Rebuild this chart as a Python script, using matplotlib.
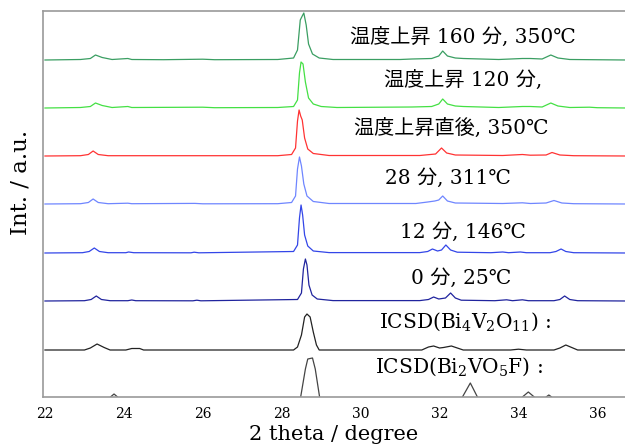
import matplotlib
matplotlib.use("Agg")
import matplotlib.pyplot as plt

# XRD patterns, (2theta, intensity above own baseline)
T160 = [(22.0, 0), (22.9, 0.5), (23.15, 1.5), (23.28, 5), (23.45, 2.5), (23.7, 0.5),
        (24.1, 1.5), (24.2, 0.5), (25.0, 0.3), (26.0, 0.8), (26.3, 0.3), (27.9, 0.5),
        (28.3, 2), (28.4, 10), (28.47, 40), (28.52, 44), (28.56, 47), (28.62, 35),
        (28.68, 16), (28.78, 6), (28.95, 2), (29.3, 0.5), (31.0, 0.5), (31.3, 1),
        (31.8, 1.5), (31.98, 4), (32.08, 9), (32.2, 4), (32.4, 2), (32.6, 1.5),
        (33.5, 0.5), (34.1, 1.5), (34.3, 1.5), (34.6, 1), (34.82, 5), (35.0, 2),
        (35.3, 0.5), (36.75, 0)]
T120 = [(22.0, 0), (22.9, 0.5), (23.15, 1.5), (23.28, 5), (23.45, 2.5), (23.7, 0.5),
        (24.1, 1.5), (24.2, 0.5), (26.0, 0.8), (26.3, 0.3), (27.9, 0.5), (28.3, 1.5),
        (28.4, 8), (28.45, 35), (28.49, 46), (28.54, 44), (28.6, 26), (28.68, 10),
        (28.8, 4), (29.0, 1.5), (29.4, 0.5), (31.3, 1), (31.8, 1.5), (31.98, 4),
        (32.08, 9), (32.2, 4), (32.4, 2), (32.6, 1.5), (33.5, 0.5), (34.1, 1.5),
        (34.3, 1.5), (34.6, 1), (34.82, 5), (35.0, 2), (35.3, 0.5), (35.8, 0.8),
        (36.0, 0.3), (36.75, 0)]
T_AFTER = [(22.0, 0), (22.9, 0.3), (23.1, 1.5), (23.22, 5), (23.35, 1.5), (23.6, 0.3),
           (25.0, 0.3), (27.9, 0.3), (28.25, 1.5), (28.35, 8), (28.4, 35), (28.44, 46),
           (28.48, 40), (28.52, 36), (28.58, 18), (28.66, 7), (28.8, 2.5), (29.2, 0.5),
           (31.5, 0.5), (31.9, 2), (32.05, 8), (32.18, 3), (32.4, 1), (33.6, 0.5),
           (34.1, 1.5), (34.3, 0.8), (34.7, 1), (34.85, 3.5), (35.05, 1), (35.4, 0.3),
           (36.75, 0)]
T28 = [(22.0, 0), (22.9, 0.3), (23.1, 1.5), (23.22, 5), (23.35, 1.5), (23.6, 0.3),
       (24.1, 0.8), (24.2, 0.3), (25.8, 0.6), (26.0, 0.2), (27.9, 0.3), (28.25, 1.5),
       (28.35, 8), (28.4, 35), (28.45, 47), (28.5, 38), (28.56, 20), (28.64, 8),
       (28.8, 2.5), (29.2, 0.5), (31.4, 0.5), (31.7, 2), (31.88, 3), (31.98, 4),
       (32.08, 8), (32.2, 3), (32.4, 1), (33.6, 0.5), (34.1, 1.2), (34.3, 0.5),
       (34.7, 1), (34.9, 3.5), (35.1, 1), (35.4, 0.3), (36.75, 0)]
T12 = [(22.0, 0), (22.95, 0.3), (23.12, 1.5), (23.25, 5), (23.38, 1.5), (23.6, 0.3),
       (24.05, 0.3), (24.12, 1), (24.25, 0.3), (25.7, 0.2), (25.78, 0.8), (25.9, 0.2),
       (28.3, 1.5), (28.4, 8), (28.45, 35), (28.49, 48), (28.53, 38), (28.58, 18),
       (28.66, 7), (28.8, 2), (29.2, 0.4), (31.5, 0.4), (31.7, 1.5), (31.82, 4),
       (31.95, 2), (32.05, 3), (32.16, 8), (32.28, 3), (32.45, 0.8), (33.3, 0.3),
       (33.6, 1), (33.75, 0.3), (34.05, 1), (34.2, 0.3), (34.8, 0.3), (34.95, 1.5),
       (35.08, 4), (35.2, 1.5), (35.4, 0.3), (36.75, 0)]
T0 = [(22.0, 0), (23.0, 0.3), (23.17, 1.5), (23.3, 5), (23.43, 1.5), (23.65, 0.3),
      (24.1, 0.3), (24.2, 1), (24.3, 0.3), (25.75, 0.2), (25.85, 0.8), (25.95, 0.2),
      (28.4, 1.5), (28.5, 8), (28.55, 32), (28.6, 42), (28.64, 36), (28.69, 16),
      (28.77, 6), (28.9, 2), (29.3, 0.4), (31.5, 0.4), (31.72, 1.5), (31.85, 4),
      (31.98, 2), (32.15, 3), (32.28, 8), (32.4, 3), (32.55, 0.8), (33.4, 0.3),
      (33.7, 1.2), (33.85, 0.3), (34.1, 1.2), (34.25, 0.3), (34.9, 0.3), (35.05, 1.5),
      (35.17, 5), (35.3, 1.5), (35.5, 0.3), (36.75, 0)]
BI4V2O11 = [(22.0, 0), (23.0, 0), (23.15, 2), (23.32, 6), (23.5, 2.5), (23.65, 0),
            (24.05, 0), (24.2, 1.5), (24.4, 1.5), (24.5, 0), (28.3, 0), (28.4, 3),
            (28.5, 15), (28.58, 33), (28.64, 36), (28.72, 33), (28.8, 18), (28.88, 5),
            (28.95, 0), (31.55, 0), (31.72, 3), (31.85, 4), (32.0, 2), (32.1, 2.5),
            (32.3, 4), (32.45, 2), (32.6, 0), (33.8, 0), (34.0, 0.8), (34.2, 0),
            (34.9, 0), (35.05, 2), (35.2, 5), (35.35, 2.5), (35.5, 0), (36.75, 0)]
BI2VO5F = [(22.0, -10), (23.62, -10), (23.66, 0), (23.75, 3), (23.84, 0), (23.88, -10),
           (28.4, -10), (28.48, 0), (28.6, 28), (28.66, 38), (28.78, 39), (28.85, 28),
           (28.96, 0), (29.05, -10), (32.5, -10), (32.58, 0), (32.78, 14), (32.96, 0),
           (33.05, -10), (34.05, -10), (34.1, 0), (34.25, 5), (34.4, 0), (34.45, -10),
           (34.68, -10), (34.7, 0), (34.77, 2), (34.84, 0), (34.86, -10), (36.75, -10)]

traces = [T160, T120, T_AFTER, T28, T12, T0, BI4V2O11, BI2VO5F]
offsets = [337, 289, 241, 193, 144, 96, 47, 0]
colors = ["#3a9e62", "#44e044", "#ff3333", "#6f86ff", "#3346e8", "#20249e", "#222222", "#444444"]
labels = ["温度上昇 160 分, 350℃", "温度上昇 120 分,", "温度上昇直後, 350℃",
          "28 分, 311℃", "12 分, 146℃", "0 分, 25℃",
          "ICSD(Bi$_4$V$_2$O$_{11}$) :", "ICSD(Bi$_2$VO$_5$F) :"]
label_x = [32.6, 32.6, 32.3, 32.2, 32.6, 32.55, 32.65, 32.5]
label_y = [360, 317, 269, 219, 165, 119, 75, 30]

SERIF = ["DejaVu Serif", "Noto Sans CJK JP"]
plt.rcParams["font.family"] = SERIF
plt.rcParams["mathtext.fontset"] = "dejavuserif"

fig = plt.figure(figsize=(6.25, 4.45), dpi=100)
ax = fig.add_axes([43 / 625, 48 / 445, 582 / 625, 386 / 445])

for pts, off, c in zip(traces, offsets, colors):
    xs = [p[0] for p in pts]
    ys = [p[1] + off for p in pts]
    ax.plot(xs, ys, color=c, lw=0.9)

for t, x, y in zip(labels, label_x, label_y):
    ax.text(x, y, t, ha="center", va="center", fontsize=14.5, family=SERIF)

ax.set_xlim(21.95, 36.7)
ax.set_ylim(0, 386)
ax.set_xticks([22, 24, 26, 28, 30, 32, 34, 36])
ax.set_yticks([])
ax.tick_params(axis="x", length=0, pad=7, labelsize=10)
for s in ["left", "top", "bottom"]:
    ax.spines[s].set_color("#9a9a9a")
    ax.spines[s].set_linewidth(1.2)
ax.spines["right"].set_visible(False)
ax.set_xlabel("2 theta / degree", fontsize=15, labelpad=3)
ax.set_ylabel("Int. / a.u.", fontsize=16.5)
ax.yaxis.set_label_coords(-0.02, 0.555)

fig.savefig("out.png", dpi=100)
